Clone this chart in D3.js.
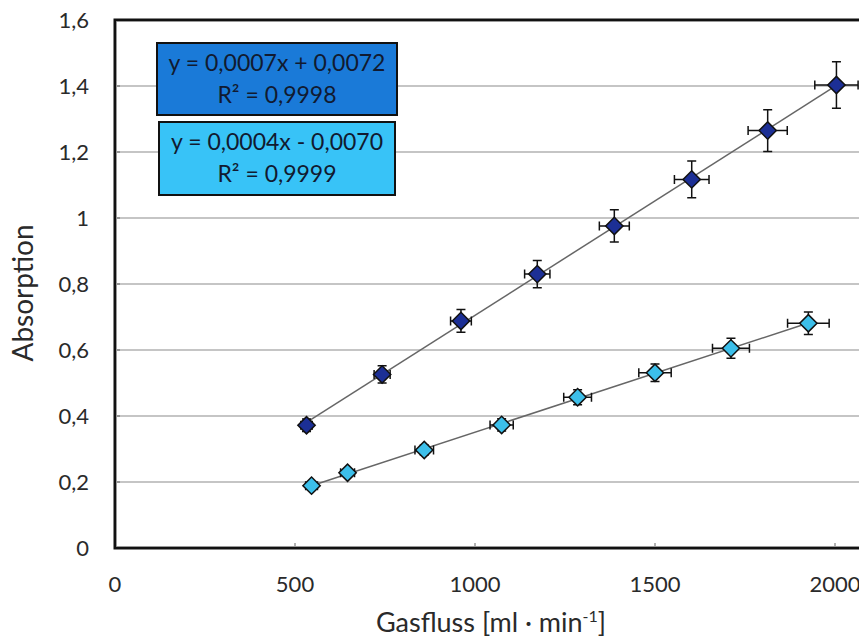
<!DOCTYPE html>
<html><head><meta charset="utf-8">
<script src="https://cdn.jsdelivr.net/npm/d3@7"></script>
<style>
body{margin:0;background:#fff;}
svg{display:block;font-family:Lato,"Open Sans",sans-serif;}
</style></head>
<body>
<svg id="c" width="859" height="641"></svg>
<script>
// Data
const darkX = [532, 742, 961, 1173, 1387, 1602, 1813, 2004];
const darkY = [0.372, 0.526, 0.688, 0.830, 0.976, 1.117, 1.265, 1.403];
const lightX = [546, 646, 859, 1074, 1285, 1500, 1711, 1926];
const lightY = [0.189, 0.228, 0.297, 0.373, 0.457, 0.531, 0.605, 0.681];
const xErrFrac = 0.03, yErrFrac = 0.05;
const xTicks = [0, 500, 1000, 1500, 2000];
const yTicks = [0, 0.2, 0.4, 0.6, 0.8, 1.0, 1.2, 1.4, 1.6];
const eqDark = ["y = 0,0007x + 0,0072", "R² = 0,9998"];
const eqLight = ["y = 0,0004x - 0,0070", "R² = 0,9999"];

const svg = d3.select("#c");
const L = 115, T = 20, B = 548;
const x = d3.scaleLinear().domain([0, 2000]).range([L, 835]);
const y = d3.scaleLinear().domain([0, 1.6]).range([B, T]);
const xMaxPix = 900;

const fmt = v => (v === 0 ? "0" : (Math.abs(v - 1) < 1e-9 ? "1" : d3.format(".1f")(v).replace(".", ",")));

// gridlines
svg.append("g").selectAll("line").data(yTicks.slice(1)).join("line")
  .attr("x1", L).attr("x2", xMaxPix).attr("y1", d => y(d)).attr("y2", d => y(d))
  .attr("stroke", "#8c8c8c").attr("stroke-width", 1.2);

// y tick marks (inside)
svg.append("g").selectAll("line").data(yTicks).join("line")
  .attr("x1", L).attr("x2", L + 5).attr("y1", d => y(d)).attr("y2", d => y(d))
  .attr("stroke", "#666");
// x tick marks (inside)
svg.append("g").selectAll("line").data(xTicks.slice(1)).join("line")
  .attr("x1", d => x(d)).attr("x2", d => x(d)).attr("y1", B).attr("y2", B - 5)
  .attr("stroke", "#666");

// frame
svg.append("path").attr("d", `M${xMaxPix},${T} L${L},${T} L${L},${B} L${xMaxPix},${B}`)
  .attr("fill", "none").attr("stroke", "#111").attr("stroke-width", 3);
svg.append("path").attr("d", `M${xMaxPix},${T+1.5} L${L+1.5},${T+1.5} L${L+1.5},${B-1.5} L${xMaxPix},${B-1.5}`)
  .attr("fill", "none").attr("stroke", "#999").attr("stroke-width", 1);

// tick labels
svg.append("g").selectAll("text").data(yTicks).join("text")
  .attr("x", 89).attr("y", d => y(d)).attr("dy", "0.36em").attr("text-anchor", "end")
  .attr("font-size", 22).attr("fill", "#2a2a2a").text(fmt);
svg.append("g").selectAll("text").data(xTicks).join("text")
  .attr("x", d => x(d)).attr("y", 592).attr("text-anchor", "middle")
  .attr("font-size", 22).attr("fill", "#2a2a2a").text(d => d);

// axis titles
svg.append("text").attr("transform", "translate(33,293) rotate(-90)")
  .attr("text-anchor", "middle").attr("font-size", 28).attr("fill", "#2a2a2a").text("Absorption");
const xt = svg.append("text").attr("x", 491).attr("y", 632).attr("text-anchor", "middle")
  .attr("font-size", 27).attr("fill", "#2a2a2a");
xt.append("tspan").text("Gasfluss [ml · min");
xt.append("tspan").attr("dy", -10).attr("font-size", 16).text("-1");
xt.append("tspan").attr("dy", 10).text("]");

// regression
function fit(xs, ys) {
  const mx = d3.mean(xs), my = d3.mean(ys);
  const b = d3.sum(xs, (v, i) => (v - mx) * (ys[i] - my)) / d3.sum(xs, v => (v - mx) ** 2);
  return [b, my - b * mx];
}
function series(xs, ys, fill) {
  const [b, a] = fit(xs, ys);
  const x0 = d3.min(xs), x1 = d3.max(xs);
  svg.append("line").attr("x1", x(x0)).attr("y1", y(a + b * x0)).attr("x2", x(x1)).attr("y2", y(a + b * x1))
    .attr("stroke", "#666").attr("stroke-width", 1.5);
  const pts = xs.map((v, i) => ({ x: v, y: ys[i] }));
  const g = svg.append("g");
  const cap = 4.5;
  pts.forEach(p => {
    const cx = x(p.x), cy = y(p.y);
    const ex = x(p.x * (1 + xErrFrac)) - cx, ey = cy - y(p.y * (1 + yErrFrac));
    const path = `M${cx - ex},${cy} H${cx + ex} M${cx - ex},${cy - cap} V${cy + cap} M${cx + ex},${cy - cap} V${cy + cap}` +
      ` M${cx},${cy - ey} V${cy + ey} M${cx - cap},${cy - ey} H${cx + cap} M${cx - cap},${cy + ey} H${cx + cap}`;
    g.append("path").attr("d", path).attr("stroke", "#111").attr("stroke-width", 1.5).attr("fill", "none");
  });
  g.selectAll("path.m").data(pts).join("path").attr("class", "m")
    .attr("d", d3.symbol(d3.symbolSquare, 150)())
    .attr("transform", d => `translate(${x(d.x)},${y(d.y)}) rotate(45)`)
    .attr("fill", fill).attr("stroke", "#111").attr("stroke-width", 1.5);
}
series(darkX, darkY, "#1c2f95");
series(lightX, lightY, "#3cbfea");

// equation boxes
function box(x0, y0, w, h, fill, lines) {
  svg.append("rect").attr("x", x0).attr("y", y0).attr("width", w).attr("height", h)
    .attr("fill", fill).attr("stroke", "#111").attr("stroke-width", 2);
  lines.forEach((t, i) => {
    svg.append("text").attr("x", x0 + w / 2).attr("y", y0 + 28 + i * 32).attr("text-anchor", "middle")
      .attr("font-size", 23).attr("fill", "#111a30").text(t);
  });
}
box(157, 43, 240, 72, "#1a7ad8", eqDark);
box(159, 122, 236, 73, "#38c3f7", eqLight);
</script>
</body></html>
